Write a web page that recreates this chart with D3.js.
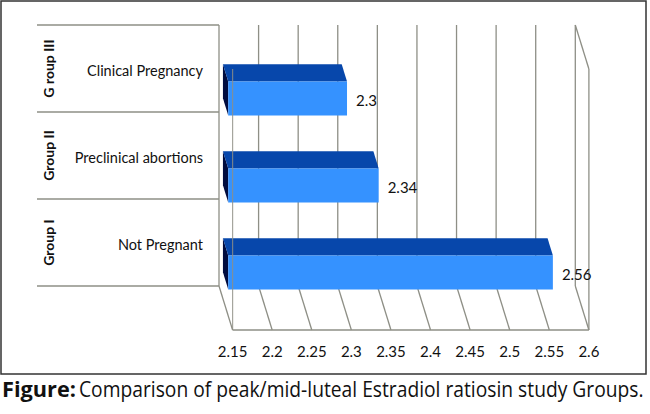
<!DOCTYPE html>
<html><head><meta charset="utf-8">
<script src="https://cdn.jsdelivr.net/npm/d3@7"></script>
<style>html,body{margin:0;padding:0;background:#fff;} svg{display:block;}</style>
</head><body>
<svg id="chart" width="650" height="414"></svg>
<script>
const categories = ["Clinical Pregnancy", "Preclinical abortions", "Not Pregnant"];
const groups = ["G roup III", "Group II", "Group I"];
const values = [2.3, 2.34, 2.56];
const valueLabels = ["2.3", "2.34", "2.56"];
const ticks = [2.15, 2.2, 2.25, 2.3, 2.35, 2.4, 2.45, 2.5, 2.55, 2.6];
const tickLabels = ["2.15", "2.2", "2.25", "2.3", "2.35", "2.4", "2.45", "2.5", "2.55", "2.6"];
const captionBold = "Figure:";
const captionText = "Comparison of peak/mid-luteal Estradiol ratiosin study Groups.";

const svg = d3.select("#chart");
const DX = 13.6, DY = 44;            // depth vector (back wall -> front)
const F0 = 0.29, F1 = 0.68;          // bar depth span
const x = d3.scaleLinear().domain([2.15, 2.6]).range([219, 575.3]);
const y = d3.scaleBand().domain(categories).range([25, 286]).paddingInner(0.61).paddingOuter(0.305);
const yStep = d3.scaleBand().domain(categories).range([25, 286]).padding(0);
const P = (px, py, f) => [px + f * DX, py + f * DY];
const gridColor = "#8e8f86";
const font = "Lato, 'Open Sans', sans-serif";

// outer border
svg.append("rect").attr("x", 1).attr("y", 1).attr("width", 645).attr("height", 373)
  .attr("fill", "none").attr("stroke", "#333").attr("stroke-width", 1.5);

const g = svg.append("g");
const yTop = 25, yBot = 286;

// back wall gridlines
g.selectAll(".grid").data(ticks).join("line")
  .attr("x1", d => x(d)).attr("x2", d => x(d))
  .attr("y1", yTop).attr("y2", yBot)
  .attr("stroke", gridColor).attr("stroke-width", 1.3);
// floor slanted lines
g.selectAll(".floor").data(ticks).join("line")
  .attr("x1", d => x(d)).attr("y1", yBot)
  .attr("x2", d => P(x(d), yBot, 1)[0]).attr("y2", d => P(x(d), yBot, 1)[1])
  .attr("stroke", gridColor).attr("stroke-width", 1.3);
// floor front edge
g.append("line")
  .attr("x1", P(x(2.15), yBot, 1)[0]).attr("x2", P(x(2.6), yBot, 1)[0])
  .attr("y1", P(0, yBot, 1)[1]).attr("y2", P(0, yBot, 1)[1])
  .attr("stroke", gridColor).attr("stroke-width", 1.3);
// right wall
g.append("line")
  .attr("x1", x(2.6)).attr("y1", yTop)
  .attr("x2", P(x(2.6), yTop, 1)[0]).attr("y2", P(x(2.6), yTop, 1)[1])
  .attr("stroke", gridColor).attr("stroke-width", 1.3);
g.append("line")
  .attr("x1", P(x(2.6), yTop, 1)[0]).attr("y1", P(x(2.6), yTop, 1)[1])
  .attr("x2", P(x(2.6), yBot, 1)[0]).attr("y2", P(x(2.6), yBot, 1)[1])
  .attr("stroke", gridColor).attr("stroke-width", 1.3);

// category separators
const bounds = categories.map(c => yStep(c)).concat([yBot]);
g.selectAll(".sep").data(bounds).join("line")
  .attr("x1", 37).attr("x2", x(2.15))
  .attr("y1", d => d).attr("y2", d => d)
  .attr("stroke", gridColor).attr("stroke-width", 1.3);

// bars
const data = categories.map((c, i) => ({c, v: values[i], label: valueLabels[i]}));
const pts = a => a.map(p => p.join(",")).join(" ");
const bars = g.selectAll(".bar").data(data).join("g");
// left side
bars.append("polygon").attr("fill", "#000c3f").attr("points", d => {
  const x0 = x(2.15), t = y(d.c), b = y(d.c) + y.bandwidth();
  return pts([P(x0, t, F0), P(x0, t, F1), P(x0, b, F1), P(x0, b, F0)]);
});
// top face
bars.append("polygon").attr("fill", "#0747ab").attr("points", d => {
  const x0 = x(2.15), x1 = x(d.v), t = y(d.c);
  return pts([P(x0, t, F0), P(x1, t, F0), P(x1, t, F1), P(x0, t, F1)]);
});
// front face
bars.append("polygon").attr("fill", "#3592ff").attr("points", d => {
  const x0 = x(2.15), x1 = x(d.v), t = y(d.c), b = y(d.c) + y.bandwidth();
  return pts([P(x0, t, F1), P(x1, t, F1), P(x1, b, F1), P(x0, b, F1)]);
});

// left wall front edge (drawn over bars)
g.append("line")
  .attr("x1", P(x(2.15), yTop, 1)[0]).attr("y1", P(x(2.15), yTop, 1)[1])
  .attr("x2", P(x(2.15), yBot, 1)[0]).attr("y2", P(x(2.15), yBot, 1)[1])
  .attr("stroke", gridColor).attr("stroke-width", 1.2).attr("stroke-opacity", 0.8);

// value labels
bars.append("text")
  .attr("x", d => P(x(d.v), 0, F1)[0] + 9)
  .attr("y", d => P(0, y(d.c) + y.bandwidth() / 2, F1)[1] + 2)
  .attr("dy", "0.35em")
  .attr("font-family", font).attr("font-size", 15).attr("fill", "#111")
  .text(d => d.label);

// tick labels
g.selectAll(".tl").data(ticks).join("text")
  .attr("x", d => P(x(d), 0, 1)[0]).attr("y", 357)
  .attr("text-anchor", "middle")
  .attr("font-family", font).attr("font-size", 15).attr("fill", "#111")
  .text((d, i) => tickLabels[i]);

// category labels
g.selectAll(".cl").data(categories).join("text")
  .attr("x", 203).attr("y", d => yStep(d) + yStep.bandwidth() / 2 + 2)
  .attr("dy", "0.35em").attr("text-anchor", "end")
  .attr("font-family", font).attr("font-size", 14.5).attr("fill", "#111")
  .text(d => d);

// group labels (rotated)
g.selectAll(".gl").data(categories).join("text")
  .attr("transform", d => `translate(49,${yStep(d) + yStep.bandwidth() / 2}) rotate(-90)`)
  .attr("dy", "0.35em").attr("text-anchor", "middle")
  .attr("font-family", font).attr("font-size", 14).attr("font-weight", "bold").attr("fill", "#111")
  .text((d, i) => groups[i]);

// caption: natural text horizontally scaled to the reference width
function fitText(txt, x0, width, weight) {
  const t = svg.append("text").attr("x", 0).attr("y", 0)
    .attr("font-family", "'Liberation Sans Narrow', 'Open Sans', sans-serif")
    .attr("font-size", 21.5).attr("font-weight", weight).attr("fill", "#111")
    .text(txt);
  const w = t.node().getComputedTextLength();
  t.attr("transform", `translate(${x0},397) scale(${width / w},1)`);
}
fitText(captionBold, 2, 74, "bold");
fitText(captionText, 79, 565, "normal");
</script>
</body></html>
